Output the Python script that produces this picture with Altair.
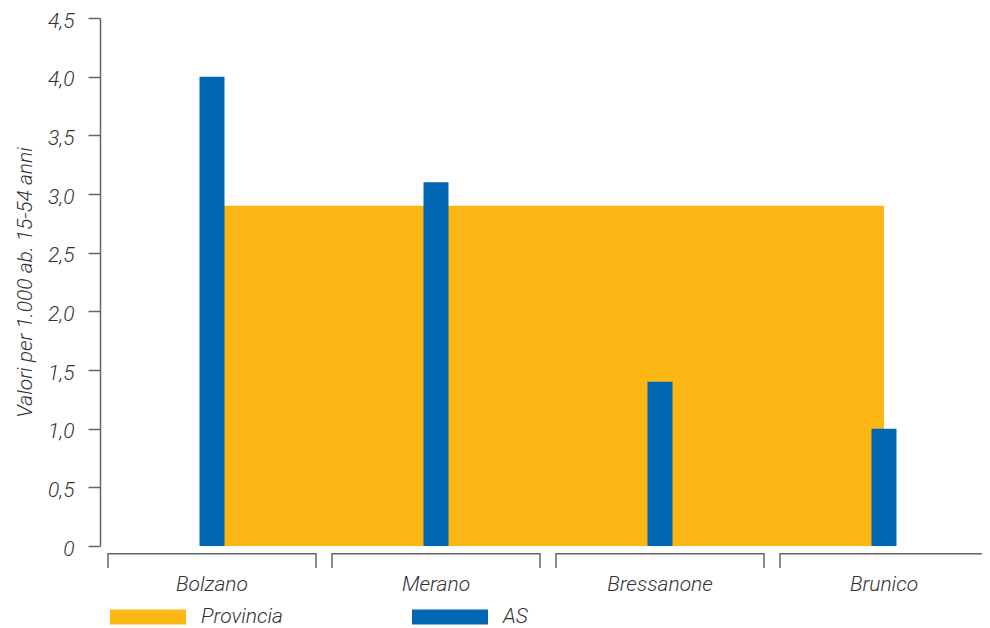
import altair as alt
import pandas as pd

categories = ["Bolzano", "Merano", "Bressanone", "Brunico"]
as_values = [4.0, 3.1, 1.4, 1.0]
provincia_values = [2.9, 2.9, 2.9, 2.9]
y_ticks = [0, 0.5, 1.0, 1.5, 2.0, 2.5, 3.0, 3.5, 4.0, 4.5]
series = ["Provincia", "AS"]
colors = ["#FDB714", "#0066B3"]
y_title = "Valori per 1.000 ab. 15-54 anni"

df_as = pd.DataFrame({"cat": categories, "value": as_values, "serie": "AS"})
df_prov = pd.DataFrame({"cat": categories, "value": provincia_values, "serie": "Provincia"})
df_cat = pd.DataFrame({"cat": categories})

FONT = "Roboto"
FS = 21
FW = 300
TXT = "#333333"
LINE = "#666666"

xscale = alt.Scale(domain=categories, paddingInner=16 / 224, paddingOuter=8 / 224)
yscale = alt.Scale(domain=[0, 4.5], nice=False)

xaxis = alt.Axis(title=None, domain=False, ticks=False, labelAngle=0, labelPadding=27,
                 labelFont=FONT, labelFontStyle="italic", labelFontWeight=FW,
                 labelFontSize=FS, labelColor=TXT)
yaxis = alt.Axis(values=y_ticks, grid=False, title=y_title,
                 labelExpr="datum.value == 0 ? '0' : replace(format(datum.value, '.1f'), '.', ',')",
                 tickSize=12, tickColor=LINE, tickWidth=1.5, domainColor=LINE, domainWidth=1.5,
                 labelPadding=14, labelOffset=3, labelFont=FONT, labelFontStyle="italic",
                 labelFontWeight=FW, labelFontSize=FS, labelColor=TXT,
                 titleFont=FONT, titleFontStyle="italic", titleFontWeight=FW, titleFontSize=FS,
                 titleColor=TXT, titlePadding=12)

X = alt.X("cat:N", scale=xscale, sort=categories, axis=xaxis)
Y = alt.Y("value:Q", scale=yscale, axis=yaxis)
color = alt.Color("serie:N", scale=alt.Scale(domain=series, range=colors),
                  legend=alt.Legend(orient="none", legendX=10, legendY=561, direction="horizontal",
                                    title=None, symbolType="M-1,-0.2H1V0.2H-1Z", symbolSize=5776,
                                    symbolStrokeWidth=0, symbolOpacity=1, labelOffset=15,
                                    columnPadding=128, labelFont=FONT, labelFontStyle="italic",
                                    labelFontWeight=FW, labelFontSize=FS, labelColor=TXT))

area = alt.Chart(df_prov).mark_area(opacity=1).encode(x=X, y=Y, color=color)
bars = alt.Chart(df_as).mark_bar(size=25, opacity=1).encode(x=X, y=Y, color=color)

bracket_h = alt.Chart(df_cat).mark_rect(color=LINE).encode(
    x=X, y=alt.value(535), y2=alt.value(536.5))
bracket_l = alt.Chart(df_cat).mark_rule(color=LINE, strokeWidth=1.5).encode(
    x=alt.X("cat:N", scale=xscale, sort=categories, axis=xaxis, bandPosition=0),
    y=alt.value(535), y2=alt.value(550))
bracket_r = alt.Chart(df_cat).mark_rule(color=LINE, strokeWidth=1.5).encode(
    x=alt.X("cat:N", scale=xscale, sort=categories, axis=xaxis, bandPosition=1),
    y=alt.value(535), y2=alt.value(550))

chart = alt.layer(area, bars, bracket_h, bracket_l, bracket_r).properties(
    width=896, height=528,
    autosize=alt.AutoSizeParams(type="none"),
    padding={"left": 92, "top": 10, "right": -14, "bottom": 82},
).configure_view(strokeWidth=0)

chart.save("out.html", embed_options={"renderer": "svg", "actions": False})
